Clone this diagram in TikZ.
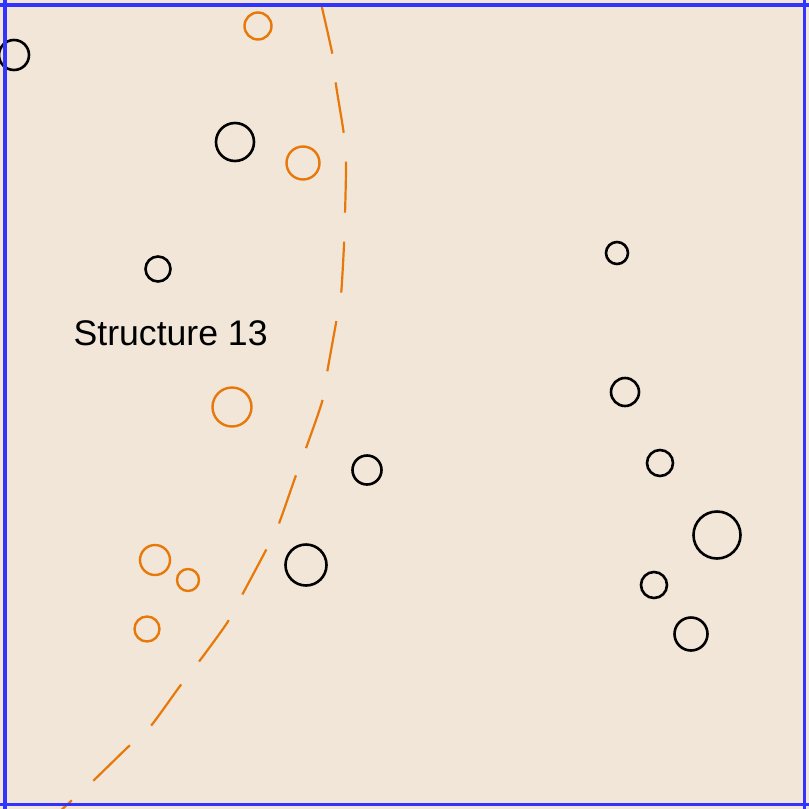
\documentclass[tikz,border=0pt]{standalone}
\usepackage{fontspec}
\setmainfont{Liberation Sans}
\definecolor{bgbeige}{RGB}{241,230,216}
\definecolor{frameblue}{RGB}{51,51,255}
\definecolor{curveorange}{RGB}{232,120,10}
\tikzset{
  blackring/.style={circle,draw=black,line width=2.6pt,inner sep=0pt,fill=none},
  orangering/.style={circle,draw=curveorange,line width=2.4pt,inner sep=0pt,fill=none},
  frameline/.style={draw=frameblue,line width=3.4pt},
  boundary/.style={draw=curveorange,line width=2.2pt,dash pattern=on 51pt off 29pt,dash phase=75pt},
}
\begin{document}
\begin{tikzpicture}[x=1pt,y=-1pt]
\useasboundingbox (0,0) rectangle (809,809);
\fill[bgbeige] (0,0) rectangle (809,809);
% dashed boundary curve
\draw[boundary] plot[smooth,tension=0.45] coordinates {(320,-1) (333,57) (336,85) (344,135) (346,165) (345,215) (344,245) (341,295) (336,323) (327,373) (322,402) (305,451) (295,478) (278,526) (265,552) (241,597) (227,623) (198,663) (180,686) (150,727) (128,747) (92,782) (70,802) (58,813)};
% black circles
\node[blackring,minimum size=30pt] (b1) at (14,55) {};
\node[blackring,minimum size=38pt] (b2) at (235,142) {};
\node[blackring,minimum size=25pt] (b3) at (158,269) {};
\node[blackring,minimum size=29pt] (b4) at (367,470) {};
\node[blackring,minimum size=41pt] (b5) at (306,565) {};
\node[blackring,minimum size=22pt] (b6) at (617,253) {};
\node[blackring,minimum size=28pt] (b7) at (625,392) {};
\node[blackring,minimum size=26pt] (b8) at (660,463) {};
\node[blackring,minimum size=47pt] (b9) at (717,535) {};
\node[blackring,minimum size=26pt] (b10) at (654,585) {};
\node[blackring,minimum size=33pt] (b11) at (691,634) {};
% orange circles
\node[orangering,minimum size=27pt] (o1) at (258,26) {};
\node[orangering,minimum size=33pt] (o2) at (303,163) {};
\node[orangering,minimum size=39pt] (o3) at (232,407) {};
\node[orangering,minimum size=30pt] (o4) at (155,560) {};
\node[orangering,minimum size=22pt] (o5) at (188,580) {};
\node[orangering,minimum size=25pt] (o6) at (147,629) {};
% label
\node[anchor=base west,inner sep=0pt,font=\fontsize{35.6}{42}\selectfont] (lbl) at (73.5,345) {Structure 13};
% frame lines
\draw[frameline] (0,5) -- (809,5);
\draw[frameline] (0,804.5) -- (809,804.5);
\draw[frameline] (5,0) -- (5,809);
\draw[frameline] (804.5,0) -- (804.5,809);
\end{tikzpicture}
\end{document}
